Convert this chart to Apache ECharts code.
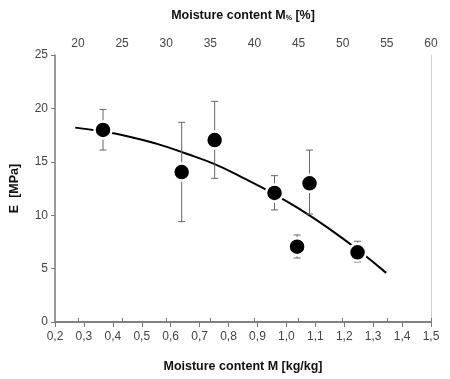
<!DOCTYPE html>
<html>
<head>
<meta charset="utf-8">
<script src="https://cdn.jsdelivr.net/npm/echarts@6/dist/echarts.min.js"></script>
<style>html,body{margin:0;padding:0;background:#fff}#c{width:450px;height:379px}</style>
</head>
<body>
<div id="c"></div>
<script>
// Measured points: moisture content M [kg/kg], E [MPa], error bar low/high
const pointM   = [0.366, 0.638, 0.752, 0.959, 1.037, 1.080, 1.246];
const pointE   = [17.98, 14.04, 17.04, 12.08, 7.05, 12.99, 6.53];
const errLow   = [16.1, 9.4, 13.45, 10.49, 5.99, 10.1, 5.62];
const errHigh  = [19.9, 18.7, 20.66, 13.7, 8.15, 16.1, 7.56];
// Trend curve
const curveM = [0.27, 0.35, 0.45, 0.55, 0.65, 0.75, 0.85, 0.95, 1.05, 1.15, 1.25, 1.345];
const curveE = [18.2, 17.9, 17.4, 16.7, 15.8, 14.8, 13.5, 12.1, 10.5, 8.7, 6.7, 4.6];
// Tick labels
const topTicks = [20, 25, 30, 35, 40, 45, 50, 55, 60];

const fmt = v => v.toFixed(1).replace('.', ',');
const gray = '#7a7a7a';
const labelStyle = { color: '#444', fontSize: 12, fontFamily: 'Liberation Sans, Arial, sans-serif' };
const nameStyle = { color: '#111', fontSize: 12.5, fontWeight: 'bold', fontFamily: 'Liberation Sans, Arial, sans-serif' };

const chart = echarts.init(document.getElementById('c'));
chart.setOption({
  backgroundColor: '#fff',
  animation: false,
  grid: { left: 54, right: 19, top: 55, bottom: 57 },
  xAxis: [
    {
      type: 'value', min: 0.2, max: 1.5, interval: 0.1, position: 'bottom',
      name: 'Moisture content M [kg/kg]', nameLocation: 'middle', nameGap: 38,
      nameTextStyle: nameStyle,
      axisLine: { show: true, lineStyle: { color: gray, width: 1.5 } },
      axisTick: { show: true, length: 5, lineStyle: { color: gray } },
      axisLabel: Object.assign({ margin: 9, formatter: fmt }, labelStyle),
      splitLine: { show: false }
    },
    {
      type: 'value', min: 17.4, max: 60, position: 'top',
      name: 'Moisture content M{sub|%} [%]', nameLocation: 'middle', nameGap: 33,
      nameTextStyle: Object.assign({}, nameStyle, {
        rich: { sub: { fontSize: 7, fontWeight: 'bold', color: '#111', verticalAlign: 'bottom', padding: [6, 0, 0, 0] } }
      }),
      axisLine: { show: true, lineStyle: { color: gray, width: 1.5 } },
      axisTick: { show: true, length: 4, inside: false, customValues: topTicks, lineStyle: { color: gray } },
      axisLabel: Object.assign({ margin: 5, customValues: topTicks }, labelStyle),
      splitLine: { show: false }
    }
  ],
  yAxis: [
    {
      type: 'value', min: 0, max: 25, interval: 5,
      name: 'E  [MPa]', nameLocation: 'middle', nameGap: 34, nameRotate: 90,
      nameTextStyle: nameStyle,
      axisLine: { show: true, lineStyle: { color: gray, width: 1.5 } },
      axisTick: { show: true, length: 4, lineStyle: { color: gray } },
      axisLabel: Object.assign({ margin: 7 }, labelStyle),
      splitLine: { show: false }
    },
    {
      type: 'value', min: 0, max: 25, position: 'right',
      axisLine: { show: true, lineStyle: { color: '#d0d0d0', width: 1 } },
      axisTick: { show: false }, axisLabel: { show: false }, splitLine: { show: false }
    }
  ],
  series: [
    {
      type: 'line', xAxisIndex: 0, yAxisIndex: 0,
      data: curveM.map((m, i) => [m, curveE[i]]),
      smooth: true, showSymbol: false, symbol: 'none',
      lineStyle: { color: '#000', width: 2 }, z: 2
    },
    {
      type: 'custom', xAxisIndex: 0, yAxisIndex: 0,
      data: pointM.map((m, i) => [m, errLow[i], errHigh[i]]),
      renderItem: (params, api) => {
        const lo = api.coord([api.value(0), api.value(1)]);
        const hi = api.coord([api.value(0), api.value(2)]);
        const w = 3.5;
        const st = { stroke: '#666', lineWidth: 1 };
        return {
          type: 'group',
          children: [
            { type: 'line', shape: { x1: hi[0], y1: hi[1], x2: lo[0], y2: lo[1] }, style: st },
            { type: 'line', shape: { x1: hi[0] - w, y1: hi[1], x2: hi[0] + w, y2: hi[1] }, style: st },
            { type: 'line', shape: { x1: lo[0] - w, y1: lo[1], x2: lo[0] + w, y2: lo[1] }, style: st }
          ]
        };
      },
      z: 3
    },
    {
      type: 'scatter', xAxisIndex: 0, yAxisIndex: 0,
      data: pointM.map((m, i) => [m, pointE[i]]),
      symbol: 'circle', symbolSize: 17,
      itemStyle: { color: '#000', borderColor: '#fff', borderWidth: 2.5, opacity: 1 },
      z: 4
    }
  ]
});
</script>
</body>
</html>
